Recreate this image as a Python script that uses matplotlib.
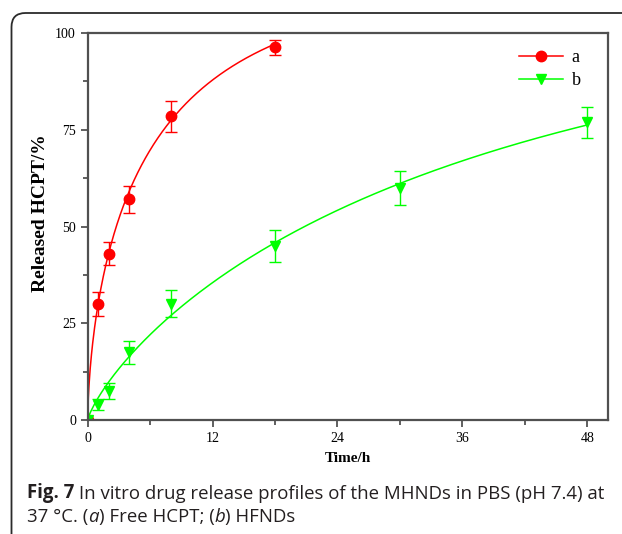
import numpy as np
import matplotlib
matplotlib.use('Agg')
import matplotlib.pyplot as plt
from matplotlib.patches import FancyBboxPatch

# data
time_a = [0, 1, 2, 4, 8, 18]
release_a = [0, 30, 43, 57, 78.5, 96.3]
err_a = [0, 3, 3, 3.5, 4, 2]

time_b = [0, 1, 2, 4, 8, 18, 30, 48]
release_b = [0, 4, 7.5, 17.5, 30, 45, 60, 77]
err_b = [0, 1.5, 2, 3, 3.5, 4.2, 4.4, 4]

x_ticks = [0, 12, 24, 36, 48]
y_ticks = [0, 25, 50, 75, 100]


def weibull_fit(t, y):
    # least squares fit of y = A (1 - exp(-(t/tau)^b)), coarse grid search
    t = np.asarray(t, float)
    y = np.asarray(y, float)
    A = np.linspace(95, 400, 62)[:, None, None, None]
    tau = np.logspace(0, 3, 150)[None, :, None, None]
    b = np.linspace(0.3, 1.5, 121)[None, None, :, None]
    pred = A * (1 - np.exp(-(t / tau) ** b))
    sse = ((pred - y) ** 2).sum(axis=-1)
    i, j, k = np.unravel_index(np.argmin(sse), sse.shape)
    return A[i, 0, 0, 0], tau[0, j, 0, 0], b[0, 0, k, 0]


fig = plt.figure(figsize=(6.22, 5.34), dpi=100)

# rounded frame around the figure (top-left corner visible)
frame = FancyBboxPatch((11.5, -100), 700, 534 - 13 + 100,
                       boxstyle='round,pad=0,rounding_size=14',
                       transform=None, fill=False, edgecolor='#2b2b2b', linewidth=1.3)
fig.patches.append(frame)

ax = fig.add_axes([0.141, 0.2135, 0.8365, 0.7245])

serif = ['Liberation Serif', 'DejaVu Serif']

for t, y, e, col, mk, lab in [(time_a, release_a, err_a, '#ff0000', 'o', 'a'),
                             (time_b, release_b, err_b, '#00ff00', 'v', 'b')]:
    A, tau, b = weibull_fit(t[1:], y[1:])
    tt = np.linspace(0, max(t), 300)
    ax.plot(tt, A * (1 - np.exp(-(tt / tau) ** b)), color=col, lw=1.1)
    ax.errorbar(t, y, yerr=e, fmt=mk, color=col, ms=7.5, capsize=4,
                elinewidth=1.0, capthick=1.0)
    ax.plot([], [], color=col, marker=mk, ms=7.5, lw=1.1, label=lab)

ax.set_xlim(0, 50)
ax.set_ylim(0, 100)
ax.set_xticks(x_ticks)
ax.set_yticks(y_ticks)
ax.set_xticks([6, 18, 30, 42], minor=True)
ax.set_yticks([12.5, 37.5, 62.5, 87.5], minor=True)
ax.tick_params(which='both', direction='out', color='#444444', width=1.2)
ax.tick_params(which='major', length=5, labelsize=10)
ax.tick_params(which='minor', length=3.5)
for lbl in ax.get_xticklabels() + ax.get_yticklabels():
    lbl.set_family(serif)
for s in ax.spines.values():
    s.set_color('#505050')
    s.set_linewidth(1.6)

ax.set_xlabel('Time/h', family=serif, fontweight='bold', fontsize=11, labelpad=5)
ax.set_ylabel('Released HCPT/%', family=serif, fontweight='bold', fontsize=14)
ax.yaxis.set_label_coords(-0.075, 0.535)

leg = ax.legend(loc='upper right', frameon=False, prop={'family': serif, 'size': 13},
                handlelength=2.4, handletextpad=0.5, labelspacing=0.3,
                bbox_to_anchor=(0.975, 0.995), borderaxespad=0.4)

# caption with mixed bold / italic pieces
cap = dict(family=['Open Sans', 'DejaVu Sans'], fontsize=13.4, color='#231f20')
t1 = fig.text(27 / 622, 1 - 498 / 534, 'Fig. 7', fontweight='bold', **cap)
ax.annotate(' In vitro drug release profiles of the MHNDs in PBS (pH 7.4) at',
            xy=(1, 0), xycoords=t1, va='bottom', ha='left', annotation_clip=False, **cap)
pieces = [('37 °C. (', 'normal'), ('a', 'italic'), (') Free HCPT; (', 'normal'),
          ('b', 'italic'), (') HFNDs', 'normal')]
prev = None
for txt, style in pieces:
    if prev is None:
        prev = fig.text(27 / 622, 1 - 522 / 534, txt, style=style, **cap)
    else:
        prev = ax.annotate(txt, xy=(1, 0), xycoords=prev, va='bottom', ha='left',
                           style=style, annotation_clip=False, **cap)

fig.savefig('out.png', dpi=100)
